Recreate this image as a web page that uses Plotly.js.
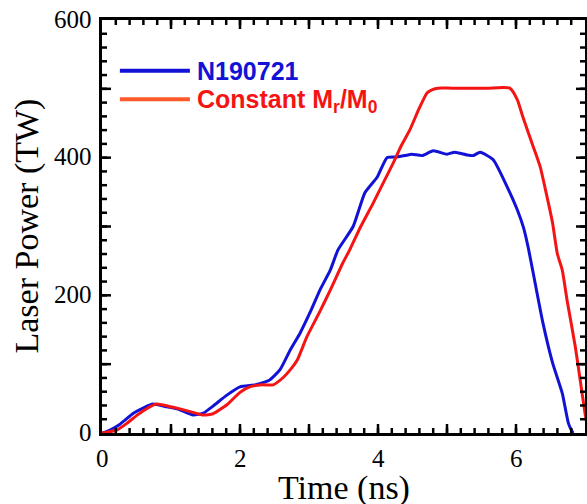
<!DOCTYPE html>
<html>
<head>
<meta charset="utf-8">
<script src="https://cdn.plot.ly/plotly-3.0.1.min.js"></script>
<style>html,body{margin:0;padding:0;background:#fff;}#chart{width:587px;height:504px;}</style>
</head>
<body>
<div id="chart"></div>
<script>
// N190721 measured pulse (time in ns, power in TW)
const blueTime = [0, 0.11, 0.25, 0.46, 0.61, 0.74, 0.94, 1.12, 1.32, 1.47, 1.62, 1.81, 2.00, 2.23, 2.43, 2.58, 2.73, 2.87, 3.01, 3.16, 3.31, 3.42, 3.64, 3.81, 3.99, 4.13, 4.27, 4.39, 4.49, 4.64, 4.80, 5.00, 5.11, 5.29, 5.38, 5.48, 5.67, 5.87, 6.02, 6.11, 6.18, 6.25, 6.39, 6.53, 6.67, 6.76, 6.81, 6.83];
const bluePower = [0, 4, 12, 29, 37, 42, 38, 34, 26, 29, 40, 55, 67, 70, 77, 92, 121, 145, 174, 208, 237, 266, 300, 349, 372, 400, 401, 403, 405, 403, 410, 405, 408, 404, 403, 408, 397, 358, 324, 298, 268, 232, 160, 102, 58, 14, 3, 0];
// Constant Mr/M0 pulse
const redTime = [0, 0.21, 0.36, 0.51, 0.66, 0.79, 0.96, 1.13, 1.32, 1.47, 1.61, 1.81, 2.00, 2.14, 2.32, 2.48, 2.63, 2.73, 2.83, 2.97, 3.16, 3.31, 3.49, 3.59, 3.75, 3.93, 4.06, 4.22, 4.34, 4.46, 4.59, 4.71, 4.79, 4.87, 5.07, 5.58, 5.91, 6.02, 6.10, 6.25, 6.35, 6.45, 6.53, 6.60, 6.67, 6.74, 6.86, 6.93, 7.00, 7.05];
const redPower = [0, 4, 14, 26, 36, 42, 39, 35, 30, 26, 28, 41, 59, 67, 70, 70, 81, 92, 106, 140, 177, 208, 247, 266, 300, 334, 360, 392, 418, 440, 470, 494, 499, 501, 501, 501, 501, 484, 459, 416, 387, 343, 305, 260, 237, 193, 125, 77, 29, 0];
const seriesNames = ['N190721', 'Constant M<sub>r</sub>/M<sub>0</sub>'];
const xLabelVals = [0, 2, 4, 6];
const yLabelVals = [0, 200, 400, 600];
const xMajorTicks = [1, 2, 3, 4, 5, 6];
const yMajorTicks = [100, 200, 300, 400, 500];
const xRange = [0, 7];
const yRange = [0, 600];

const BLUE = '#1212d6';
const RED = '#f51414';
const serif = 'Liberation Serif, Times New Roman, serif';
const sans = 'Liberation Sans, Arial, sans-serif';

// minor tick positions (every 0.2 ns and every 20 TW, inside the frame)
const xMinorTicks = [];
for (let i = 1; i < 35; i++) xMinorTicks.push(+(i * 0.2).toFixed(1));
const yMinorTicks = [];
for (let i = 1; i < 30; i++) yMinorTicks.push(i * 20);

const traces = [
  {x: blueTime, y: bluePower, type: 'scatter', mode: 'lines', name: seriesNames[0],
   line: {color: BLUE, width: 3, shape: 'spline', smoothing: 0.5}, showlegend: false},
  {x: redTime, y: redPower, type: 'scatter', mode: 'lines', name: seriesNames[1],
   line: {color: RED, width: 3, shape: 'spline', smoothing: 0.5}, showlegend: false}
];

// plot area size in px (for tick lengths in paper units)
const W = 587 - 102 - 2, H = 504 - 20 - 71;
const tickLine = {color: 'black', width: 2.5};
const shapes = [];
function xTicks(vals, len) {
  const f = len / H;
  vals.forEach(v => {
    shapes.push({type: 'line', xref: 'x', yref: 'paper', x0: v, x1: v, y0: 0, y1: f, line: tickLine});
    shapes.push({type: 'line', xref: 'x', yref: 'paper', x0: v, x1: v, y0: 1, y1: 1 - f, line: tickLine});
  });
}
function yTicks(vals, len) {
  const f = len / W;
  vals.forEach(v => {
    shapes.push({type: 'line', xref: 'paper', yref: 'y', y0: v, y1: v, x0: 0, x1: f, line: tickLine});
    shapes.push({type: 'line', xref: 'paper', yref: 'y', y0: v, y1: v, x0: 1, x1: 1 - f, line: tickLine});
  });
}
xTicks(xMinorTicks, 5);
xTicks(xMajorTicks, 9);
yTicks(yMinorTicks, 5);
yTicks(yMajorTicks, 9);

// legend sample lines
shapes.push({type: 'line', xref: 'paper', yref: 'paper', x0: 0.037, x1: 0.182, y0: 0.877, y1: 0.877,
             line: {color: BLUE, width: 4}});
shapes.push({type: 'line', xref: 'paper', yref: 'paper', x0: 0.037, x1: 0.182, y0: 0.808, y1: 0.808,
             line: {color: '#ff5a2a', width: 4}});

const annotations = [];
xLabelVals.forEach(v => annotations.push({
  xref: 'x', yref: 'paper', x: v, y: 0, xanchor: 'center', yanchor: 'middle', yshift: -25,
  showarrow: false, text: String(v), font: {family: serif, size: 25, color: 'black'}
}));
yLabelVals.forEach(v => annotations.push({
  xref: 'paper', yref: 'y', x: 0, y: v, xanchor: 'right', yanchor: 'middle', xshift: -8, yshift: 1,
  showarrow: false, text: String(v), font: {family: serif, size: 25, color: 'black'}
}));
annotations.push({
  xref: 'paper', yref: 'paper', x: 0.5, y: 0, xanchor: 'center', yanchor: 'middle', yshift: -55,
  showarrow: false, text: 'Time (ns)', font: {family: serif, size: 34, color: 'black'}
});
annotations.push({
  xref: 'paper', yref: 'paper', x: 0, y: 0.5, xanchor: 'center', yanchor: 'middle', xshift: -76,
  textangle: -90, showarrow: false, text: 'Laser Power (TW)', font: {family: serif, size: 34, color: 'black'}
});
annotations.push({
  xref: 'paper', yref: 'paper', x: 0.193, y: 0.877, xanchor: 'left', yanchor: 'middle',
  showarrow: false, text: '<b>' + seriesNames[0] + '</b>', font: {family: sans, size: 25, color: BLUE}
});
annotations.push({
  xref: 'paper', yref: 'paper', x: 0.193, y: 0.805, xanchor: 'left', yanchor: 'middle',
  showarrow: false, text: '<b>' + seriesNames[1] + '</b>', font: {family: sans, size: 25, color: RED}
});

const axisBase = {
  showgrid: false, zeroline: false, showline: true, linecolor: 'black', linewidth: 3,
  mirror: true, ticks: '', showticklabels: false, fixedrange: true
};

const layout = {
  width: 587, height: 504,
  margin: {l: 102, r: 2, t: 20, b: 71},
  paper_bgcolor: 'white', plot_bgcolor: 'white',
  showlegend: false,
  xaxis: Object.assign({}, axisBase, {range: xRange}),
  yaxis: Object.assign({}, axisBase, {range: yRange}),
  shapes: shapes,
  annotations: annotations
};

Plotly.newPlot('chart', traces, layout, {displayModeBar: false, staticPlot: true});
</script>
</body>
</html>
